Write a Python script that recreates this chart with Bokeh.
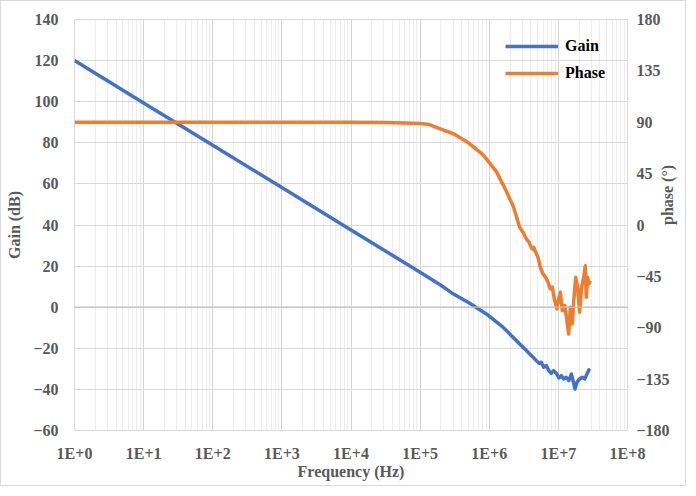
import math
from bokeh.plotting import figure
from bokeh.models import Range1d, LinearAxis, FixedTicker, LogTicker, CustomJSTickFormatter, Legend, LegendItem, Span
from bokeh.embed import file_html
from bokeh.resources import INLINE

# ---- data ----
gain_freq = [1, 10, 100, 1e3, 1e4, 1e5, 2e5, 3.0e5, 5.22e5, 9.08e5, 1.58e6, 2.76e6, 3.44e6,
             4.30e6, 4.80e6, 5.25e6, 5.66e6, 6.12e6, 6.68e6, 7.31e6, 7.91e6, 8.53e6, 9.33e6,
             1.02e7, 1.10e7, 1.19e7, 1.30e7, 1.42e7, 1.54e7, 1.63e7, 1.74e7, 1.86e7, 2.03e7,
             2.21e7, 2.40e7, 2.59e7, 2.77e7, 2.89e7]
gain_db = [120, 99.4, 78.8, 58.2, 37.6, 17.0, 10.7, 6.5, 1.9, -3.3, -9.7, -17.9, -21.1,
           -24.3, -26.0, -27.3, -26.8, -29.2, -28.4, -30.9, -32.1, -30.9, -32.1,
           -34.4, -33.3, -34.9, -34.1, -35.7, -32.5, -35.7, -39.8, -36.5, -34.9,
           -34.1, -34.9, -32.5, -30.5, -30.9]

phase_freq = [1, 1e3, 1e4, 3e4, 6e4, 1.0e5, 1.3e5, 2.0e5, 3.1e5, 5.0e5, 7.94e5, 9.33e5, 1.26e6,
              1.66e6, 2.24e6, 2.75e6, 3.08e6, 3.44e6, 3.76e6, 3.93e6, 4.20e6, 4.40e6, 4.70e6,
              5.07e6, 5.48e6, 5.98e6, 6.55e6, 7.08e6, 7.64e6, 8.17e6, 8.85e6, 9.55e6, 1.02e7,
              1.07e7, 1.14e7, 1.24e7, 1.33e7, 1.41e7, 1.49e7, 1.59e7, 1.67e7, 1.78e7, 1.90e7,
              2.03e7, 2.17e7, 2.32e7, 2.45e7, 2.53e7, 2.65e7, 2.77e7, 2.89e7]
phase_deg = [90, 90, 90, 89.8, 89.4, 89.0, 88.3, 84, 79.7, 72, 62, 57, 47,
             33, 16, -2, -6.4, -12.2, -15.1, -18.1, -21, -19.5, -23.9,
             -28.2, -37, -42.9, -45.8, -50.1, -56, -54.5, -66.2, -73.5, -63.3,
             -58.9, -75, -70.6, -83.8, -95.4, -72, -86.6, -66.2, -45.8, -54.5,
             -76.4, -54.5, -45.8, -35.6, -63.3, -45.8, -51.6, -48.7]

gain_ticks = [-60, -40, -20, 0, 20, 40, 60, 80, 100, 120, 140]
phase_ticks = [-180, -135, -90, -45, 0, 45, 90, 135, 180]

FONT = "Liberation Serif"
LABEL_COLOR = "#595959"
BLUE = "#4472C4"
ORANGE = "#ED7D31"

p = figure(width=686, height=486, x_axis_type="log",
           x_range=Range1d(1, 1e8), y_range=Range1d(-60, 140),
           output_backend="svg", toolbar_location=None,
           min_border_left=73, min_border_right=59, min_border_top=18, min_border_bottom=57)
p.styles = {"border": "1px solid #d9d9d9"}
p.extra_y_ranges = {"phase": Range1d(-180, 180)}

p.outline_line_color = "#d9d9d9"
p.background_fill_color = "white"
p.border_fill_color = "white"

# grids
p.xgrid.grid_line_color = "#d4d4d4"
p.xgrid.minor_grid_line_color = "#ececec"
p.ygrid.grid_line_color = "#d9d9d9"
p.ygrid.ticker = FixedTicker(ticks=gain_ticks)
p.add_layout(Span(location=0, dimension="width", line_color="#bfbfbf", line_width=1.2))

# x axis
xa = p.xaxis[0]
xa.ticker = LogTicker(num_minor_ticks=10)
xa.formatter = CustomJSTickFormatter(code="return '1E+' + Math.round(Math.log10(tick));")
xa.axis_label = "Frequency (Hz)"

# left axis
ya = p.yaxis[0]
ya.ticker = FixedTicker(ticks=gain_ticks)
ya.axis_label = "Gain (dB)"

# right axis
ra = LinearAxis(y_range_name="phase", ticker=FixedTicker(ticks=phase_ticks), axis_label="phase (°)")
ra.axis_label_orientation = math.pi / 2
p.add_layout(ra, "right")

for ax in [xa, ya, ra]:
    ax.axis_line_color = None
    ax.major_tick_line_color = None
    ax.minor_tick_line_color = None
    ax.major_label_text_font = FONT
    ax.major_label_text_font_style = "bold"
    ax.major_label_text_font_size = "16px"
    ax.major_label_text_color = LABEL_COLOR
    ax.axis_label_text_font = FONT
    ax.axis_label_text_font_style = "bold"
    ax.axis_label_text_font_size = "16px"
    ax.axis_label_text_color = LABEL_COLOR

xa.major_label_standoff = 8
xa.axis_label_standoff = -2
ya.major_label_standoff = 10
ya.axis_label_standoff = 7
ra.major_label_standoff = 3
ra.axis_label_standoff = -5

g = p.line(gain_freq, gain_db, line_color=BLUE, line_width=3.5, line_join="round")
ph = p.line(phase_freq, phase_deg, y_range_name="phase", line_color=ORANGE, line_width=3.5, line_join="round")

legend = Legend(items=[LegendItem(label="Gain", renderers=[g]), LegendItem(label="Phase", renderers=[ph])],
                location=(431, 347), padding=0, margin=0, spacing=7,
                glyph_width=53, glyph_height=20, label_height=20, label_standoff=7,
                label_text_font=FONT, label_text_font_style="bold", label_text_font_size="16px",
                label_text_color="#000000", background_fill_alpha=0, border_line_color=None)
p.add_layout(legend)

open("out.html", "w").write(file_html(p, INLINE))
